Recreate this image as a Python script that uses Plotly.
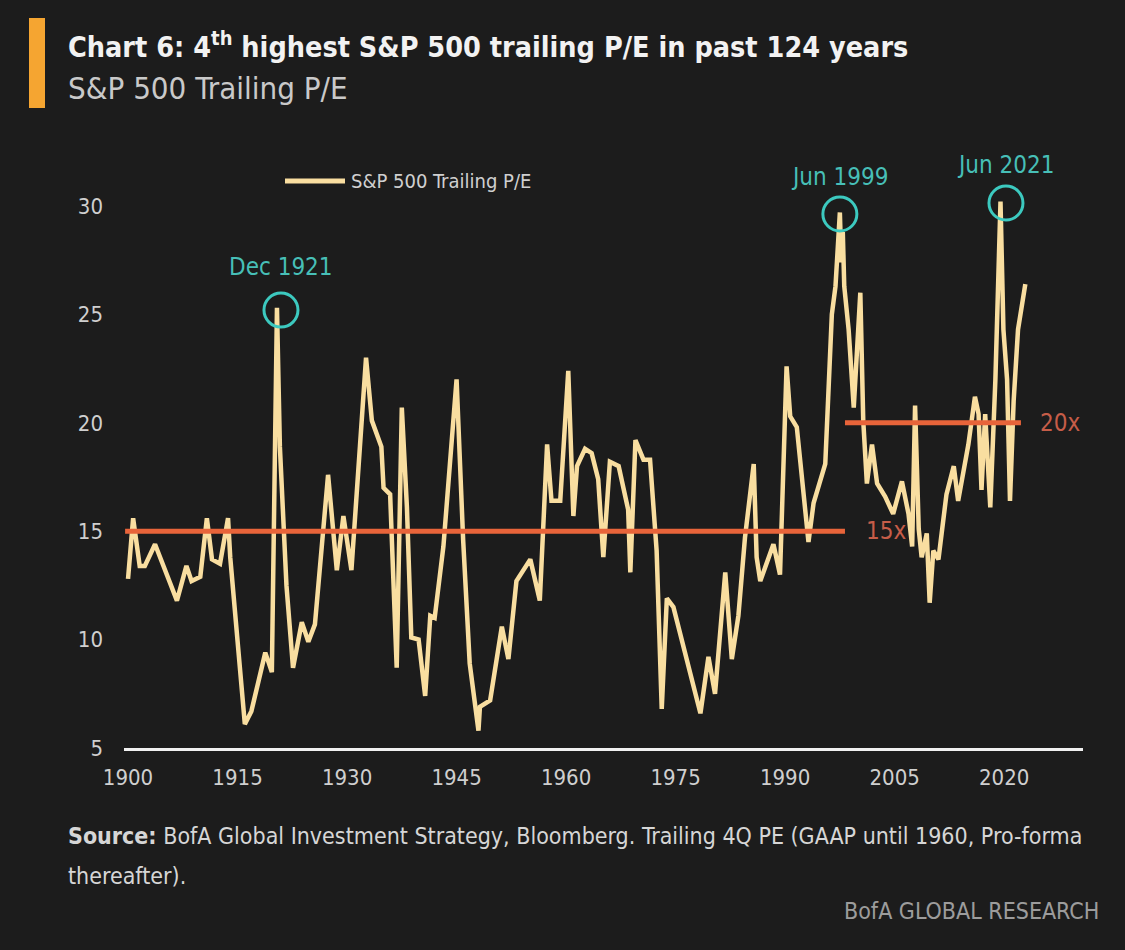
import plotly.graph_objects as go

# ---------------- data ----------------
years = [1900.0, 1900.7, 1901.6, 1902.3, 1903.7, 1906.7, 1908.0, 1908.7, 1909.9, 1910.8,
         1911.5, 1912.6, 1913.7, 1914.0, 1916.0, 1916.9, 1918.8, 1919.7, 1920.4, 1920.8,
         1921.7, 1922.6, 1923.8, 1924.7, 1925.6, 1927.4, 1928.6, 1929.5, 1930.6, 1932.6,
         1933.4, 1934.7, 1935.0, 1935.9, 1936.8, 1937.5, 1938.2, 1938.8, 1939.8, 1940.7,
         1941.4, 1942.0, 1943.2, 1945.0, 1945.9, 1946.8, 1948.0, 1948.2, 1949.6, 1951.2,
         1952.1, 1953.2, 1955.1, 1956.4, 1957.4, 1958.0, 1959.2, 1960.3, 1961.0, 1961.5,
         1962.6, 1963.5, 1964.4, 1965.1, 1966.0, 1967.2, 1968.5, 1968.8, 1969.5, 1970.6,
         1971.5, 1972.4, 1973.1, 1973.8, 1974.7, 1976.8, 1978.4, 1979.5, 1980.4, 1981.8,
         1982.7, 1983.6, 1984.5, 1985.7, 1986.1, 1986.6, 1988.4, 1989.3, 1990.2, 1990.7,
         1991.6, 1993.2, 1993.9, 1995.5, 1995.9, 1996.4, 1996.9, 1997.3, 1997.5, 1997.7,
         1997.9, 1998.1, 1998.7, 1999.4, 2000.3, 2000.7, 2001.2, 2001.9, 2002.6, 2003.7,
         2004.8, 2006.0, 2006.9, 2007.4, 2007.8, 2008.3, 2008.7, 2009.4, 2009.8, 2010.3,
         2011.0, 2012.1, 2013.1, 2013.7, 2015.1, 2016.0, 2016.5, 2016.9, 2017.4, 2018.1,
         2018.8, 2019.5, 2019.9, 2020.4, 2020.8, 2021.3, 2021.9, 2022.9]
pe = [12.8, 15.6, 13.4, 13.4, 14.4, 11.8, 13.4, 12.7, 12.9, 15.6,
      13.7, 13.5, 15.6, 13.8, 6.1, 6.7, 9.4, 8.5, 25.3, 18.9,
      12.5, 8.7, 10.8, 9.9, 10.7, 17.6, 13.2, 15.7, 13.2, 23.0,
      20.1, 18.9, 17.0, 16.7, 8.7, 20.7, 16.1, 10.1, 10.0, 7.4,
      11.1, 11.0, 14.3, 22.0, 14.6, 8.9, 5.8, 6.9, 7.2, 10.6,
      9.1, 12.7, 13.7, 11.8, 19.0, 16.4, 16.4, 22.4, 15.7, 18.0,
      18.8, 18.6, 17.4, 13.8, 18.2, 18.0, 16.0, 13.1, 19.2, 18.3,
      18.3, 14.1, 6.8, 11.9, 11.5, 8.7, 6.6, 9.2, 7.5, 13.1,
      9.1, 11.1, 14.7, 18.1, 13.8, 12.7, 14.4, 13.0, 22.6, 20.3,
      19.8, 14.5, 16.3, 18.1, 21.7, 25.0, 26.3, 28.3, 29.7, 27.4,
      28.8, 26.3, 24.3, 20.7, 26.0, 20.1, 17.2, 19.0, 17.2, 16.6,
      15.8, 17.3, 15.8, 14.3, 20.8, 15.1, 13.8, 14.9, 11.7, 14.1,
      13.7, 16.7, 18.0, 16.4, 19.0, 21.2, 20.4, 16.9, 20.4, 16.1,
      22.0, 30.2, 24.3, 22.0, 16.4, 21.0, 24.3, 26.4]

# reference levels (15x until 1998, 20x afterwards)
ref_levels = [15, 20]
ref_start = [1899.6, 1998.2]
ref_end = [1998.2, 2022.3]
ref_labels = ["15x", "20x"]
ref_label_x = [2000.8, 2024.6]

# highlighted peaks
peak_labels = ["Dec 1921", "Jun 1999", "Jun 2021"]
peak_x = [1920.95, 1997.5, 2020.25]
peak_y = [25.2, 29.63, 30.14]

x_ticks = [1900, 1915, 1930, 1945, 1960, 1975, 1990, 2005, 2020]
y_ticks = [5, 10, 15, 20, 25, 30]

# ---------------- style ----------------
BG = "#1c1c1c"
LINE = "#f9dea0"
ORANGE = "#e8643a"
ORANGE_TXT = "#c65d48"
TEAL = "#3cc9bf"
TEAL_TXT = "#47bfb7"
FONT = "DejaVu Sans Condensed, DejaVu Sans, sans-serif"

W, H = 1125, 950
L, R, T, B = 124, 42, 150, 202
PW, PH = W - L - R, H - T - B


def px(xp):
    return (xp - L) / PW


def py(yp):
    return (H - B - yp) / PH


fig = go.Figure()

fig.add_trace(go.Scatter(x=years, y=pe, mode="lines",
                         line=dict(color=LINE, width=4.5),
                         name="S&P 500 Trailing P/E", showlegend=False,
                         hoverinfo="x+y"))

for lvl, x0, x1 in zip(ref_levels, ref_start, ref_end):
    fig.add_trace(go.Scatter(x=[x0, x1], y=[lvl, lvl], mode="lines",
                             line=dict(color=ORANGE, width=5),
                             showlegend=False, hoverinfo="skip"))

fig.add_trace(go.Scatter(x=peak_x, y=peak_y, mode="markers",
                         marker=dict(symbol="circle-open", size=34, color=TEAL,
                                     line=dict(width=3, color=TEAL)),
                         showlegend=False, hoverinfo="skip", cliponaxis=False))

annotations = []
for lab, xx, yy, sh in zip(peak_labels, peak_x, peak_y, [43, 37, 38]):
    annotations.append(dict(x=xx, y=yy, xref="x", yref="y", text=lab, showarrow=False,
                            yshift=sh, xanchor="center", yanchor="middle",
                            font=dict(family=FONT, size=24, color=TEAL_TXT)))
for lab, xx, lvl in zip(ref_labels, ref_label_x, ref_levels):
    annotations.append(dict(x=xx, y=lvl, xref="x", yref="y", text=lab, showarrow=False,
                            xanchor="left", yanchor="middle",
                            font=dict(family=FONT, size=24, color=ORANGE_TXT)))

# titles
annotations.append(dict(x=px(66), y=py(45), xref="paper", yref="paper",
                        text="<b>Chart 6: 4<sup>th</sup> highest S&P 500 trailing P/E in past 124 years</b>",
                        showarrow=False, xanchor="left", yanchor="middle",
                        font=dict(family=FONT, size=28.5, color="#f2f2f2")))
annotations.append(dict(x=px(66), y=py(88), xref="paper", yref="paper",
                        text="S&P 500 Trailing P/E", showarrow=False,
                        xanchor="left", yanchor="middle",
                        font=dict(family=FONT, size=31, color="#c9c9c9")))
# legend text
annotations.append(dict(x=px(349), y=py(181), xref="paper", yref="paper",
                        text="S&P 500 Trailing P/E", showarrow=False,
                        xanchor="left", yanchor="middle",
                        font=dict(family=FONT, size=20, color="#d0d0d0")))
# source
annotations.append(dict(x=px(66), y=py(836), xref="paper", yref="paper",
                        text="<b>Source:</b> BofA Global Investment Strategy, Bloomberg. Trailing 4Q PE (GAAP until 1960, Pro-forma",
                        showarrow=False, xanchor="left", yanchor="middle",
                        font=dict(family=FONT, size=23, color="#d6d6d6")))
annotations.append(dict(x=px(66), y=py(876), xref="paper", yref="paper",
                        text="thereafter).", showarrow=False,
                        xanchor="left", yanchor="middle",
                        font=dict(family=FONT, size=23, color="#d6d6d6")))
annotations.append(dict(x=px(1101), y=py(911), xref="paper", yref="paper",
                        text="BofA GLOBAL RESEARCH", showarrow=False,
                        xanchor="right", yanchor="middle",
                        font=dict(family=FONT, size=23, color="#9c9c9c")))

shapes = [
    dict(type="rect", xref="paper", yref="paper", x0=px(29), x1=px(45), y0=py(108), y1=py(18),
         fillcolor="#f5a531", line=dict(width=0)),
    dict(type="line", xref="paper", yref="paper", x0=px(285), x1=px(345), y0=py(181), y1=py(181),
         line=dict(color=LINE, width=5)),
]

fig.update_layout(
    width=W, height=H,
    margin=dict(l=L, r=R, t=T, b=B, pad=0),
    paper_bgcolor=BG, plot_bgcolor=BG,
    annotations=annotations, shapes=shapes,
    showlegend=False,
    font=dict(family=FONT, color="#cfcfcf"),
)
fig.update_xaxes(range=[1899.45, 2030.8], tickvals=x_ticks, ticktext=[str(v) for v in x_ticks],
                 showgrid=False, zeroline=False, showline=True, linecolor="#f0f0f0", linewidth=2.5,
                 ticks="", ticklabelstandoff=8,
                 tickfont=dict(family=FONT, size=22, color="#cfcfcf"))
fig.update_yaxes(range=[5, 5 + PH / 21.68], tickvals=y_ticks, ticktext=[str(v) for v in y_ticks],
                 showgrid=False, zeroline=False, showline=False, ticks="", ticklabelstandoff=20,
                 tickfont=dict(family=FONT, size=22, color="#cfcfcf"))

fig.write_html("out.html", config={"displayModeBar": False},
               post_script="document.body.style.margin='0';document.body.style.overflow='hidden';")
